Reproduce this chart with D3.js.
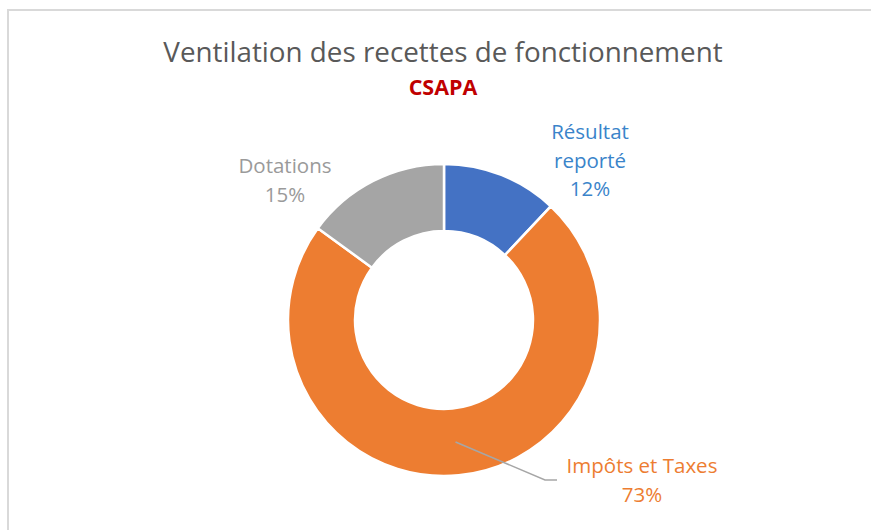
<!DOCTYPE html>
<html>
<head>
<meta charset="utf-8">
<script src="https://cdn.jsdelivr.net/npm/d3@7"></script>
<style>
  body { margin: 0; background: #fff; }
  svg text { font-family: "Open Sans", "Noto Sans", sans-serif; }
</style>
</head>
<body>
<div id="chart"></div>
<script>
var categories = ["Résultat reporté", "Impôts et Taxes", "Dotations"]
var shares = [12, 73, 15]
var labelLines = [["Résultat", "reporté", "12%"], ["Impôts et Taxes", "73%"], ["Dotations", "15%"]]
var sliceColors = ["#4472C4", "#ED7D31", "#A5A5A5"]
var labelColors = ["#3A84CA", "#ED7D31", "#9A9A9A"]

var width = 871
var height = 530
var cx = 444, cy = 320
var outerR = 156, innerR = 89
// label block centre x and first baseline, picked to sit where the original puts them
var labelPos = [[590, 139], [642, 473], [285, 173]]
var lineStep = 28.5

const svg = d3.select("#chart")
    .append("svg")
    .attr("width", width)
    .attr("height", height)

// chart area border (only top and left edges show in the frame)
svg.append("path")
    .attr("d", "M8," + (height + 5) + "V10H" + (width + 5))
    .attr("fill", "none")
    .attr("stroke", "#D9D9D9")
    .attr("stroke-width", 2)

svg.append("text")
    .attr("x", cx - 1)
    .attr("y", 62)
    .attr("text-anchor", "middle")
    .attr("fill", "#595959")
    .style("font-size", "27.8px")
    .text("Ventilation des recettes de fonctionnement")

svg.append("text")
    .attr("x", cx - 1)
    .attr("y", 95)
    .attr("text-anchor", "middle")
    .attr("fill", "#C00000")
    .style("font-size", "21.5px")
    .style("font-weight", "bold")
    .text("CSAPA")

var pie = d3.pie().sort(null).value(d => d)
var arcs = pie(shares)
var arc = d3.arc().innerRadius(innerR).outerRadius(outerR)

var g = svg.append("g").attr("transform", "translate(" + cx + "," + cy + ")")

g.selectAll("path.slice")
    .data(arcs)
    .enter()
    .append("path")
    .attr("class", "slice")
    .attr("d", arc)
    .attr("fill", (d, i) => sliceColors[i])
    .attr("stroke", "#fff")
    .attr("stroke-width", 2.5)

// leader line for the big slice, from its centroid to the label
var c = arc.centroid(arcs[1])
var lp = labelPos[1]
svg.append("polyline")
    .attr("points", [
        [cx + c[0], cy + c[1]],
        [lp[0] - 97, lp[1] + 7],
        [lp[0] - 85, lp[1] + 7]
    ].map(p => p.join(",")).join(" "))
    .attr("fill", "none")
    .attr("stroke", "#A6A6A6")
    .attr("stroke-width", 1.5)

labelLines.forEach(function (lines, i) {
    var t = svg.append("text")
        .attr("text-anchor", "middle")
        .attr("fill", labelColors[i])
        .style("font-size", "20.5px")
    lines.forEach(function (s, k) {
        t.append("tspan")
            .attr("x", labelPos[i][0])
            .attr("y", labelPos[i][1] + k * lineStep)
            .text(s)
    })
})
</script>
</body>
</html>
